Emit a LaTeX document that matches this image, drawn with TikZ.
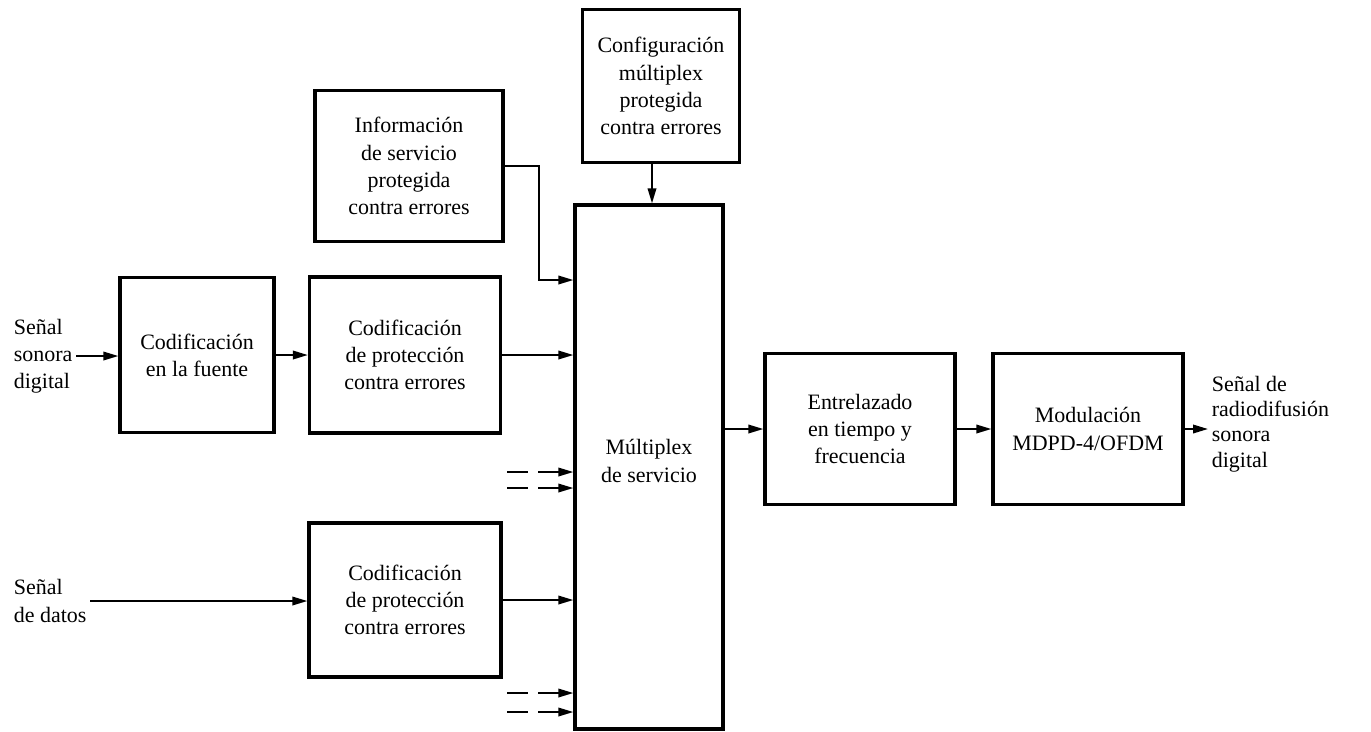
\documentclass[tikz,border=0pt]{standalone}
\usepackage{fontspec}
\setmainfont{Liberation Serif}
\usetikzlibrary{arrows.meta}

\begin{document}
\begin{tikzpicture}[x=0.02cm, y=-0.02cm, >={Triangle[length=0.3cm,width=0.17cm]},
    every node/.style={font=\fontsize{12.5}{15.5}\selectfont},
    block/.style={draw, line width=1.9pt, align=center, inner sep=0pt},
    signal/.style={align=left, inner sep=2pt},
    flow/.style={->, line width=1.1pt},
    spare/.style={flow, dash pattern=on 0.42cm off 0.2cm on 2cm}]

    \useasboundingbox (0,0) rectangle (1371,731);

    \node [block, minimum width=3.08cm, minimum height=3.1cm] (fuente) at (197,355) {Codificación\\en la fuente};
    \node [block, minimum width=3.82cm, minimum height=3.12cm] (protA) at (405,355) {Codificación\\de protección\\contra errores};
    \node [block, minimum width=3.84cm, minimum height=3.08cm] (protB) at (405,600) {Codificación\\de protección\\contra errores};
    \node [block, minimum width=3.76cm, minimum height=3.02cm] (info) at (409,166) {Información\\de servicio\\protegida\\contra errores};
    \node [block, minimum width=3.14cm, minimum height=3.06cm] (config) at (661,86) {Configuración\\múltiplex\\protegida\\contra errores};
    \node [block, minimum width=2.96cm, minimum height=10.48cm,
           label={[align=center, yshift=0.12cm]center:Múltiplex\\de servicio}] (mux) at (649,467) {};
    \node [block, minimum width=3.8cm, minimum height=3.02cm] (entre) at (860,429) {Entrelazado\\en tiempo y\\frecuencia};
    \node [block, minimum width=3.8cm, minimum height=3.02cm] (modul) at (1088,429) {Modulación\\MDPD-4/OFDM};

    \node [signal, anchor=west] (sonora) at (10,356) {Señal\\sonora\\digital};
    \node [signal, anchor=west] (datos) at (10,601) {Señal\\de datos};
    \node [signal, anchor=west, font=\fontsize{12.5}{14.5}\selectfont] (radio) at (1208,424) {Señal de\\radiodifusión\\sonora\\digital};

    \coordinate (codo) at (539,166);
    \foreach \y in {472,488,693,712}
        \coordinate (libre\y) at (507,\y);

 \path[flow]
      (sonora) edge (sonora -| fuente.west)
      (fuente) edge (protA)
      (protA) edge (protA -| mux.west)
      (datos) edge (datos -| protB.west)
      (protB) edge (protB -| mux.west)
      (config.south -| 652,0) edge (mux.north -| 652,0)
      (mux.east |- entre) edge (entre)
      (entre) edge (modul)
      (modul) edge (modul.east -| radio.west);
    \draw [flow] (info.east) -- (codo) |- (mux.west |- 0,280);
    \foreach \y in {472,488,693,712}
        \draw [spare] (libre\y) -- (mux.west |- libre\y);
\end{tikzpicture}
\end{document}
